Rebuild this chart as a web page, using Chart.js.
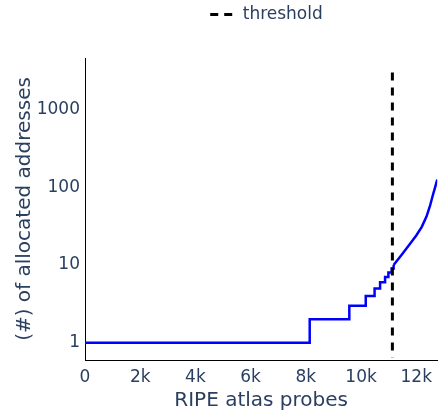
<!DOCTYPE html>
<html><head><meta charset="utf-8">
<script src="https://cdn.jsdelivr.net/npm/chart.js@4/dist/chart.umd.min.js"></script>
<style>html,body{margin:0;padding:0;background:#fff;overflow:hidden}#wrap{width:439px;height:416px;position:relative}</style>
</head><body><div id="wrap"><canvas id="c" width="439" height="416"></canvas></div>
<script>
const stepProbes = [0, 8140, 9575, 10170, 10490, 10690, 10870, 10990, 11110, 11180];
const stepAddresses = [1, 2, 3, 4, 5, 6, 7, 8, 9, 10];
const curveProbes = [11180, 11500, 11830, 12000, 12200, 12370, 12500, 12600, 12700, 12760];
const curveAddresses = [10, 14, 20, 24, 31, 42, 58, 79, 105, 126];
const thresholdProbes = [11135, 11135];
const thresholdAddresses = [3000, 0.643];
const xTickValues = [0, 2000, 4000, 6000, 8000, 10000, 12000];
const xTickLabels = ['0', '2k', '4k', '6k', '8k', '10k', '12k'];
const yTickValues = [1, 10, 100, 1000];
const yTickLabels = ['1', '10', '100', '1000'];
const legendLabel = 'threshold';
const xTitle = 'RIPE atlas probes';
const yTitle = '(#) of allocated addresses';

const FONT = "'DejaVu Sans', Verdana, sans-serif";
const TXT = '#2a3f5f';
const toXY = (xs, ys) => xs.map((x, i) => ({x: x, y: ys[i]}));

const legendShift = {
  id: 'legendShift',
  afterLayout(chart) {
    const l = chart.legend;
    if (!l) return;
    const dx = 47, dy = -25;
    l.left += dx; l.right += dx; l.top += dy; l.bottom += dy;
  }
};

const chart = new Chart(document.getElementById('c'), {
  type: 'line',
  data: {
    datasets: [
      {label: 'steps', data: toXY(stepProbes, stepAddresses), stepped: true,
       borderColor: '#0000ff', borderWidth: 2.5, pointRadius: 0, fill: false, order: 1},
      {label: 'curve', data: toXY(curveProbes, curveAddresses), tension: 0,
       borderColor: '#0000ff', borderWidth: 2.5, pointRadius: 0, fill: false, order: 1},
      {label: legendLabel, data: toXY(thresholdProbes, thresholdAddresses),
       borderColor: '#000000', backgroundColor: '#000000', borderWidth: 3, borderDash: [8, 7],
       pointRadius: 0, fill: false, order: 0}
    ]
  },
  options: {
    responsive: false,
    animation: false,
    layout: {padding: {top: 21, left: 0, right: 0, bottom: 0}},
    plugins: {
      legend: {
        display: true, position: 'top', align: 'center',
        labels: {
          generateLabels: (ch) => Chart.defaults.plugins.legend.labels.generateLabels(ch)
            .filter(item => item.text === legendLabel)
            .map(item => Object.assign(item, {lineDash: [8, 6], lineWidth: 3, strokeStyle: '#000000'})),
          usePointStyle: true, pointStyle: 'line', pointStyleWidth: 24, boxHeight: 17,
          padding: 10, color: TXT, font: {family: FONT, size: 17}
        }
      },
      tooltip: {enabled: false}
    },
    scales: {
      x: {
        type: 'linear', min: 0, max: 12760,
        afterFit: (s) => { s.height = 56; },
        afterBuildTicks: (s) => { s.ticks = xTickValues.map(v => ({value: v})); },
        ticks: {
          callback: (v) => { const i = xTickValues.indexOf(v); return i >= 0 ? xTickLabels[i] : ''; },
          padding: 7, color: TXT, font: {family: FONT, size: 17}, maxRotation: 0, autoSkip: false
        },
        grid: {display: false, drawTicks: false},
        border: {display: true, color: '#000000', width: 1},
        title: {display: true, text: xTitle, color: TXT, font: {family: FONT, size: 20}, padding: {top: 0, bottom: 3}}
      },
      y: {
        type: 'logarithmic', min: 0.643, max: 4613,
        afterFit: (s) => { s.width = 85; },
        afterBuildTicks: (s) => { s.ticks = yTickValues.map(v => ({value: v})); },
        ticks: {
          callback: (v) => { const i = yTickValues.indexOf(v); return i >= 0 ? yTickLabels[i] : ''; },
          padding: 5, color: TXT, font: {family: FONT, size: 17}, autoSkip: false
        },
        grid: {display: false, drawTicks: false},
        border: {display: true, color: '#000000', width: 1},
        title: {display: true, text: yTitle, color: TXT, font: {family: FONT, size: 20}, padding: {top: 13, bottom: 0}}
      }
    }
  },
  plugins: [legendShift]
});
</script>
</body></html>
